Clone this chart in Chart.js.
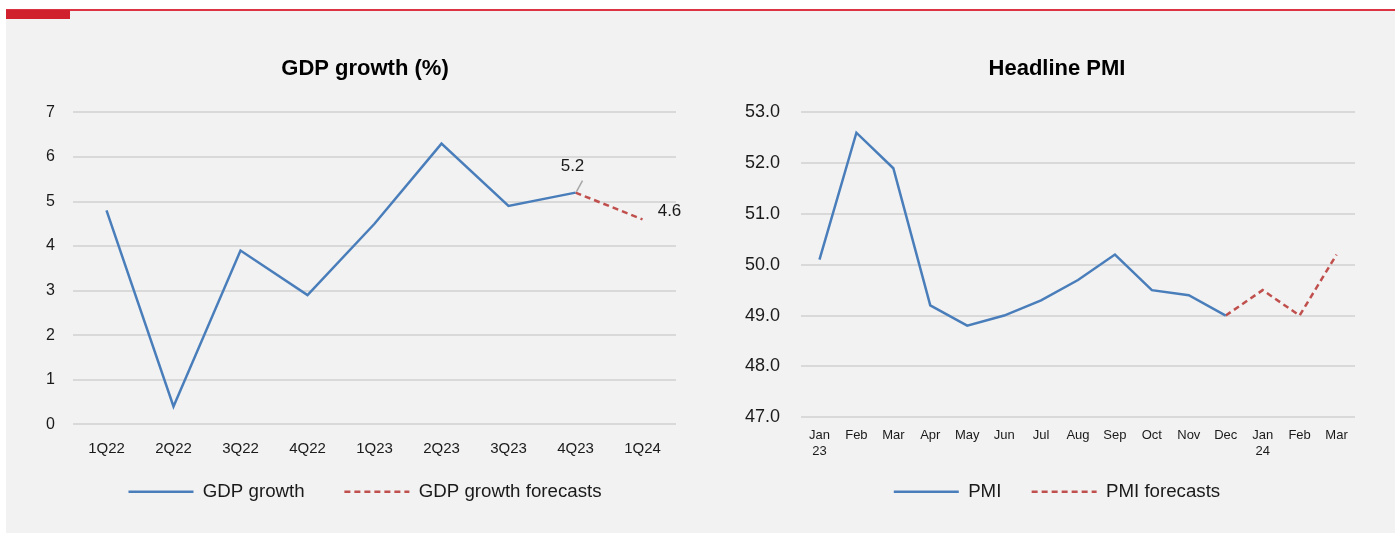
<!DOCTYPE html>
<html>
<head>
<meta charset="utf-8">
<script src="https://cdn.jsdelivr.net/npm/chart.js@4/dist/chart.umd.min.js"></script>
<style>
  body { margin: 0; width: 1395px; height: 533px; background: #fff; position: relative; overflow: hidden; }
  .panel { position: absolute; left: 6px; top: 10px; width: 1389px; height: 523px; background: #f2f2f2; }
  .rule { position: absolute; left: 6px; top: 9px; width: 1389px; height: 2px; background: #dc3442; }
  .tab { position: absolute; left: 6px; top: 10px; width: 64px; height: 9px; background: #d0202e; }
  canvas { position: absolute; top: 20px; }
  #gdpChart { left: 6px; }
  #pmiChart { left: 700px; }
</style>
</head>
<body>
<div class="panel"></div>
<div class="rule"></div>
<div class="tab"></div>
<canvas id="gdpChart" width="694" height="513"></canvas>
<canvas id="pmiChart" width="692" height="513"></canvas>
<script>
// Quarterly GDP growth (%)
const gdpQuarters = ["1Q22", "2Q22", "3Q22", "4Q22", "1Q23", "2Q23", "3Q23", "4Q23", "1Q24"];
const gdpGrowth = [4.8, 0.4, 3.9, 2.9, 4.5, 6.3, 4.9, 5.2, null];
const gdpForecast = [null, null, null, null, null, null, null, 5.2, 4.6];

// Monthly headline PMI
const pmiMonths = [["Jan", "23"], "Feb", "Mar", "Apr", "May", "Jun", "Jul", "Aug", "Sep", "Oct", "Nov", "Dec", ["Jan", "24"], "Feb", "Mar"];
const pmiValues = [50.1, 52.6, 51.9, 49.2, 48.8, 49.0, 49.3, 49.7, 50.2, 49.5, 49.4, 49.0, null, null, null];
const pmiForecast = [null, null, null, null, null, null, null, null, null, null, null, 49.0, 49.5, 49.0, 50.2];

const BLUE = "#4a7ebb";
const RED = "#c0504d";
const GRID = "#d9d9d9";
const TEXT = "#1a1a1a";

Chart.defaults.font.family = "'Liberation Sans', Arial, sans-serif";
Chart.defaults.color = TEXT;

// value labels next to chosen forecast points
const pointLabels = {
  id: "pointLabels",
  afterDatasetsDraw(chart, args, opts) {
    if (!opts.items) return;
    const ctx = chart.ctx;
    const xs = chart.scales.x, ys = chart.scales.y;
    ctx.save();
    ctx.font = "17px 'Liberation Sans', Arial, sans-serif";
    ctx.fillStyle = TEXT;
    ctx.textAlign = "center";
    ctx.textBaseline = "middle";
    opts.items.forEach((it) => {
      const value = chart.data.datasets[it.dataset].data[it.index];
      const px = xs.getPixelForValue(it.index);
      const py = ys.getPixelForValue(value);
      if (it.leader) {
        ctx.strokeStyle = "#a6a6a6";
        ctx.lineWidth = 1.5;
        ctx.beginPath();
        ctx.moveTo(px + 1, py - 1);
        ctx.lineTo(px + 7, py - 12);
        ctx.stroke();
      }
      ctx.fillText(value.toFixed(1), px + it.dx, py + it.dy);
    });
    ctx.restore();
  },
};

function lineSet(label, data, color, dashed) {
  return {
    label: label,
    data: data,
    borderColor: color,
    backgroundColor: color,
    borderWidth: 2.5,
    borderDash: dashed ? [6, 4] : [],
    pointRadius: 0,
    tension: 0,
    spanGaps: false,
  };
}

// legend entries drawn as line samples, dashed where the series is dashed
function legendLabels(gap) {
  return function (chart) {
    const items = Chart.defaults.plugins.legend.labels.generateLabels(chart);
    items.forEach((it, i) => {
      const ds = chart.data.datasets[it.datasetIndex];
      it.strokeStyle = ds.borderColor;
      it.lineWidth = ds.borderWidth;
      it.lineDash = ds.borderDash;
      if (i < items.length - 1) it.text += gap;
    });
    return items;
  };
}

function baseOptions(title, padLeft, padRight, yWidth, yPad, legendPad, gap) {
  return {
    responsive: false,
    animation: false,
    layout: { padding: { left: padLeft, right: padRight, top: 36, bottom: 22 } },
    plugins: {
      title: {
        display: true,
        text: title,
        color: "#000",
        font: { size: 22, weight: "bold" },
        padding: { top: 0, bottom: 30 },
      },
      legend: {
        position: "bottom",
        labels: {
          usePointStyle: true,
          pointStyle: "line",
          pointStyleWidth: 65,
          padding: legendPad,
          color: TEXT,
          font: { size: 18.7 },
          generateLabels: legendLabels(gap),
        },
      },
      tooltip: { enabled: false },
    },
    scales: {
      x: {
        offset: true,
        grid: { display: false, drawTicks: false },
        border: { display: false },
        ticks: { autoSkip: false, maxRotation: 0, color: TEXT },
      },
      y: {
        grid: { color: GRID, lineWidth: 2, drawTicks: false },
        border: { display: false },
        ticks: { stepSize: 1, mirror: true, padding: yPad, color: TEXT },
        afterFit(scale) { scale.width = yWidth; },
      },
    },
  };
}

// GDP growth chart
const gdpOpts = baseOptions("GDP growth (%)", 48, 24, 19, -27, 8, "\u2002\u2002\u2002\u2009");
gdpOpts.scales.x.ticks.padding = 16;
gdpOpts.scales.x.ticks.font = { size: 15 };
gdpOpts.scales.y.min = 0;
gdpOpts.scales.y.max = 7;
gdpOpts.scales.y.ticks.font = { size: 16 };
gdpOpts.plugins.pointLabels = {
  items: [
    { dataset: 1, index: 7, dx: -3, dy: -26, leader: true },
    { dataset: 1, index: 8, dx: 27, dy: -8 },
  ],
};

new Chart(document.getElementById("gdpChart"), {
  type: "line",
  data: {
    labels: gdpQuarters,
    datasets: [
      lineSet("GDP growth", gdpGrowth, BLUE, false),
      lineSet("GDP growth forecasts", gdpForecast, RED, true),
    ],
  },
  options: gdpOpts,
  plugins: [pointLabels],
});

// Headline PMI chart
const pmiOpts = baseOptions("Headline PMI", 59, 37, 42, -56, 12, "\u2002 \u2009");
pmiOpts.scales.x.ticks.padding = 11;
pmiOpts.scales.x.ticks.font = { size: 13 };
pmiOpts.scales.y.min = 47;
pmiOpts.scales.y.max = 53;
pmiOpts.scales.y.ticks.font = { size: 18 };
pmiOpts.scales.y.ticks.callback = (v) => v.toFixed(1);

new Chart(document.getElementById("pmiChart"), {
  type: "line",
  data: {
    labels: pmiMonths,
    datasets: [
      lineSet("PMI", pmiValues, BLUE, false),
      lineSet("PMI forecasts", pmiForecast, RED, true),
    ],
  },
  options: pmiOpts,
});
</script>
</body>
</html>
